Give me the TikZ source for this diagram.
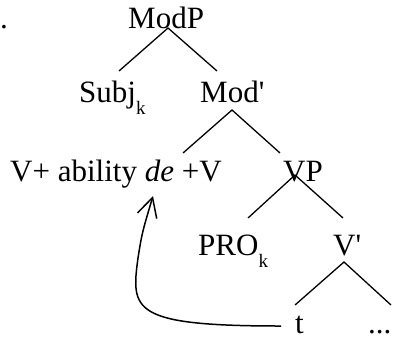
\documentclass[tikz,border=0pt]{standalone}
\usepackage{fontspec}
\setmainfont{Liberation Serif}
\usetikzlibrary{arrows.meta}
\newcommand{\subk}[1]{\raisebox{-12pt}{\fontsize{19}{19}\selectfont #1}}

\begin{document}
\begin{tikzpicture}[x=1pt,y=-1pt,
    lbl/.style={inner sep=0pt,anchor=base west,font=\fontsize{31}{37}\selectfont},
    branch/.style={line width=1.3pt},
    move/.style={line width=1.5pt,-{Straight Barb[length=19pt,width=20pt]}}]
    \useasboundingbox (0,0) rectangle (393,341);

    \node[lbl] (num) at (0,28) {.};
    \node[lbl] (modp) at (128,28) {ModP};
    \node[lbl] (subj) at (79,102) {Subj\subk{k}};
    \node[lbl] (modbar) at (200,102) {Mod\textquotesingle};
    \node[lbl] (vde) at (10,181) {V+ ability \textit{de} +V};
    \node[lbl] (vp) at (283,181) {VP};
    \node[lbl] (pro) at (198,255) {PRO\subk{k}};
    \node[lbl] (vbar) at (333,255) {V\textquotesingle};
    \node[lbl] (t) at (295,333) {t};
    \node[lbl] (rest) at (368,333) {...};

    % branches
    \draw[branch] ([shift={(40,-31)}]subj.base west) -- ([shift={(40,0)}]modp.base west)
        -- ([shift={(17,-31)}]modbar.base west);
    \draw[branch] ([shift={(173,-28)}]vde.base west) -- ([shift={(32,8)}]modbar.base west)
        -- ([shift={(-3,-28)}]vp.base west);
    \draw[branch] ([shift={(50,-37)}]pro.base west) -- ([shift={(12,-6)}]vp.base west)
        -- ([shift={(10,-37)}]vbar.base west);
    \draw[branch] ([shift={(0,-28)}]t.base west) -- ([shift={(11,7)}]vbar.base west)
        -- ([shift={(23,-28)}]rest.base west);

    % movement
    \coordinate (tail) at ([shift={(-14,-7)}]t.base west);
    \coordinate (head) at ([shift={(143,15)}]vde.base west);
    \coordinate (bend) at (138,258);
    \draw[move] (tail) .. controls +(-150,0) and +(-7,52) .. (bend)
        .. controls +(4,-25) .. (head);
\end{tikzpicture}
\end{document}
